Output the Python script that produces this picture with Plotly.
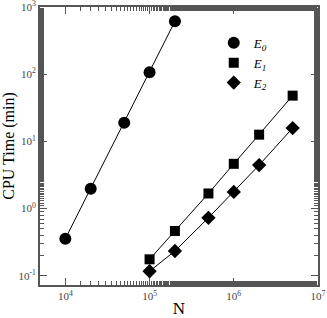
import plotly.graph_objects as go
import math

N_E0 = [1e4, 2e4, 5e4, 1e5, 2e5]
T_E0 = [0.356, 1.97, 19.0, 107, 612]
N_E1 = [1e5, 2e5, 5e5, 1e6, 2e6, 5e6]
T_E1 = [0.176, 0.465, 1.68, 4.64, 12.6, 48]
N_E2 = [1e5, 2e5, 5e5, 1e6, 2e6, 5e6]
T_E2 = [0.117, 0.234, 0.73, 1.77, 4.44, 15.8]

x_tickvals = [1e4, 1e5, 1e6, 1e7]
x_ticktext = ["10<sup>4</sup>", "10<sup>5</sup>", "10<sup>6</sup>", "10<sup>7</sup>"]
y_tickvals = [0.1, 1, 10, 100, 1000]
y_ticktext = ["10<sup>-1</sup>", "10<sup>0</sup>", "10<sup>1</sup>", "10<sup>2</sup>", "10<sup>3</sup>"]

series = [
    (N_E0, T_E0, "circle", 12, "<i>E<sub>0</sub></i>"),
    (N_E1, T_E1, "square", 10, "<i>E<sub>1</sub></i>"),
    (N_E2, T_E2, "diamond", 11, "<i>E<sub>2</sub></i>"),
]

fig = go.Figure()
for xs, ys, sym, sz, name in series:
    fig.add_trace(go.Scatter(x=xs, y=ys, mode="lines+markers",
                             line=dict(color="black", width=1),
                             marker=dict(symbol=sym, size=sz, color="black"),
                             showlegend=False))
for xs, ys, sym, sz, name in series:
    fig.add_trace(go.Scatter(x=[None], y=[None], mode="markers", name=name,
                             marker=dict(symbol=sym, size=sz, color="black"),
                             showlegend=True))

font = "Liberation Serif, Times New Roman, serif"
xr = [math.log10(5000), 7]
yr = [math.log10(0.073), 3]
tick_common = dict(
    type="log", showgrid=False, zeroline=False, automargin=False,
    ticks="inside", ticklen=7, tickwidth=1, tickcolor="#555",
    minor=dict(ticks="inside", ticklen=4, tickwidth=1, tickcolor="#555", showgrid=False),
    tickfont=dict(family=font, size=11, color="#444"),
    ticklabeloverflow="allow",
)
fig.update_layout(
    xaxis=dict(range=xr, tickvals=x_tickvals, ticktext=x_ticktext,
               showline=True, linecolor="#555", linewidth=2, mirror=True,
               title=dict(text="N", font=dict(family=font, size=17, color="black"), standoff=6),
               **tick_common),
    yaxis=dict(range=yr, tickvals=y_tickvals, ticktext=y_ticktext,
               showline=True, linecolor="#555", linewidth=2, mirror=True,
               title=dict(text="CPU Time (min)", font=dict(family=font, size=16, color="black"), standoff=4),
               **tick_common),
    xaxis2=dict(range=xr, overlaying="x", side="top", tickvals=x_tickvals,
                showticklabels=False, showline=False, **tick_common),
    yaxis2=dict(range=yr, overlaying="y", side="right", tickvals=y_tickvals,
                showticklabels=False, showline=False, **tick_common),
)
fig.add_trace(go.Scatter(x=[None], y=[None], xaxis="x2", yaxis="y2", showlegend=False, hoverinfo="skip"))

fig.update_layout(
    width=327, height=318,
    margin=dict(l=40, r=9, t=7, b=33),
    plot_bgcolor="white", paper_bgcolor="white",
    font=dict(family=font, color="black"),
    legend=dict(x=0.625, y=0.925, xanchor="left", yanchor="top",
                bgcolor="rgba(0,0,0,0)", font=dict(family=font, size=13),
                tracegroupgap=0, itemwidth=30),
)
fig.write_html("out.html", config={"displayModeBar": False},
               post_script="document.body.style.margin='0';document.body.style.overflow='hidden';")
